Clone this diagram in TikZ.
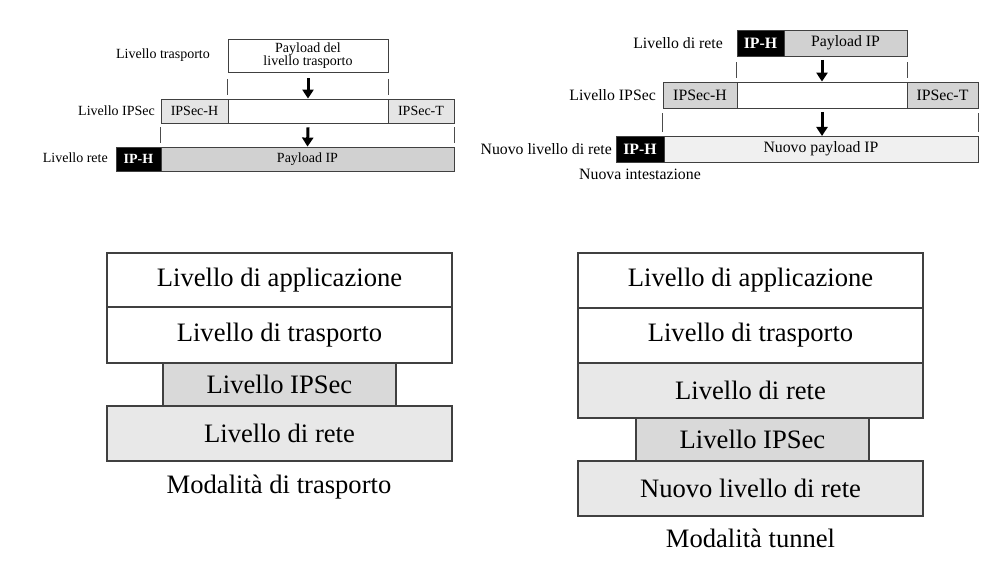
\documentclass[tikz,border=0pt]{standalone}
\usepackage{fontspec}
\setmainfont{Liberation Serif}
\usetikzlibrary{arrows.meta,calc}
\begin{document}
\begin{tikzpicture}[x=1pt,y=-1pt,
  cellA/.style={draw=black!75,line width=0.8pt,inner sep=0pt,font=\fontsize{14}{16}\selectfont},
  cellB/.style={draw=black!75,line width=0.8pt,inner sep=0pt,font=\fontsize{15.8}{18}\selectfont},
  blk/.style={fill=black,text=white},
  big/.style={draw=black!75,line width=1.6pt,inner sep=0pt,minimum width=345pt,font=\fontsize{26.6}{30}\selectfont},
  lblA/.style={inner sep=0pt,font=\fontsize{14}{16}\selectfont},
  lblB/.style={inner sep=0pt,font=\fontsize{15.8}{18}\selectfont},
  lblC/.style={inner sep=0pt,font=\fontsize{26.6}{30}\selectfont},
  tick/.style={draw=black!70,line width=0.7pt},
  arr/.style={line width=3pt,-{Triangle[width=11pt,length=9pt]}}]
\useasboundingbox (0,0) rectangle (992,577);
% ---------- top left: transport mode ----------
\node[cellA,fill=white,minimum width=160pt,minimum height=33pt,align=center] (tlp) at (308,55.5) {Payload del\\[-3pt]livello trasporto};
\node[lblA] (tll1) at (163,55) {Livello trasporto};
\node[cellA,fill=black!10,minimum width=67pt,minimum height=24pt] (tlh) at (194.5,111) {IPSec-H};
\node[cellA,fill=white,minimum width=160pt,minimum height=24pt] (tlm) at (308,111) {};
\node[cellA,fill=black!10,minimum width=66pt,minimum height=24pt] (tlt) at (421,111) {IPSec-T};
\node[lblA,anchor=east] (tll2) at (155,111) {Livello IPSec};
\node[cellA,blk,minimum width=45pt,minimum height=24pt] (tliph) at (138.5,159) {\textbf{IP-H}};
\node[cellA,fill=black!18,minimum width=293pt,minimum height=24pt] (tlpay) at (307.5,159) {Payload IP};
\node[lblA,anchor=east] (tll3) at (108,158) {Livello rete};
\draw[tick] ([yshift=-7pt]tlp.south west) -- ([yshift=-23pt]tlp.south west);
\draw[tick] ([yshift=-7pt]tlp.south east) -- ([yshift=-23pt]tlp.south east);
\draw[arr] ([yshift=-6pt]tlp.south) -- (tlm.north);
\draw[tick] ([yshift=-4pt]tlh.south west) -- ([yshift=-20pt]tlh.south west);
\draw[tick] ([yshift=-4pt]tlt.south east) -- ([yshift=-20pt]tlt.south east);
\draw[arr] ([yshift=-4pt]tlm.south) -- (tlpay.north);
% ---------- top right: tunnel mode ----------
\node[cellB,blk,minimum width=47pt,minimum height=26pt] (triph) at (760.5,43) {\textbf{IP-H}};
\node[cellB,fill=black!18,minimum width=123pt,minimum height=26pt] (trpay) at (845.5,43) {Payload IP};
\node[lblB,anchor=east] (trl1) at (723,43) {Livello di rete};
\node[cellB,fill=black!17,minimum width=74pt,minimum height=26pt] (trh) at (700,95) {IPSec-H};
\node[cellB,fill=white,minimum width=170pt,minimum height=26pt] (trm) at (822,95) {};
\node[cellB,fill=black!17,minimum width=71pt,minimum height=26pt] (trt) at (942.5,95) {IPSec-T};
\node[lblB,anchor=east] (trl2) at (656,95) {Livello IPSec};
\node[cellB,blk,minimum width=48pt,minimum height=26pt] (trniph) at (640,149) {\textbf{IP-H}};
\node[cellB,fill=black!6,minimum width=314pt,minimum height=26pt] (trnpay) at (821,149) {Nuovo payload IP};
\node[lblB,anchor=east] (trl3) at (612,149) {Nuovo livello di rete};
\node[lblB] (trl4) at (640,174) {Nuova intestazione};
\draw[tick] ([yshift=-6pt]triph.south west) -- ([yshift=-22pt]triph.south west);
\draw[tick] ([yshift=-6pt]trpay.south east) -- ([yshift=-22pt]trpay.south east);
\draw[arr] (822,60) -- (trm.north);
\draw[tick] ([yshift=-5pt]trh.south west) -- ([yshift=-24pt]trh.south west);
\draw[tick] ([yshift=-5pt]trt.south east) -- ([yshift=-24pt]trt.south east);
\draw[arr] (822,112) -- (822,136);
% ---------- bottom left stack ----------
\node[big,fill=white,minimum height=54pt] (bla) at (279.5,280) {Livello di applicazione};
\node[big,fill=white,minimum height=56pt] (blt) at (279.5,335) {Livello di trasporto};
\node[big,fill=black!15,minimum width=233pt,minimum height=43pt] (bli) at (279.5,384.5) {Livello IPSec};
\node[big,fill=black!9,minimum height=55pt] (blr) at (279.5,433.5) {Livello di rete};
\node[lblC] (blc) at (279,487) {Modalità di trasporto};
% ---------- bottom right stack ----------
\node[big,fill=white,minimum height=55pt] (bra) at (750.5,280.5) {Livello di applicazione};
\node[big,fill=white,minimum height=55pt] (brt) at (750.5,335.5) {Livello di trasporto};
\node[big,fill=black!9,minimum height=55pt] (brr) at (750.5,390.5) {Livello di rete};
\node[big,fill=black!15,minimum width=233pt,minimum height=43pt] (bri) at (752.5,439.5) {Livello IPSec};
\node[big,fill=black!9,minimum height=55pt] (brn) at (750.5,488.5) {Nuovo livello di rete};
\node[lblC] (brc) at (750.5,538) {Modalità tunnel};
\end{tikzpicture}
\end{document}
